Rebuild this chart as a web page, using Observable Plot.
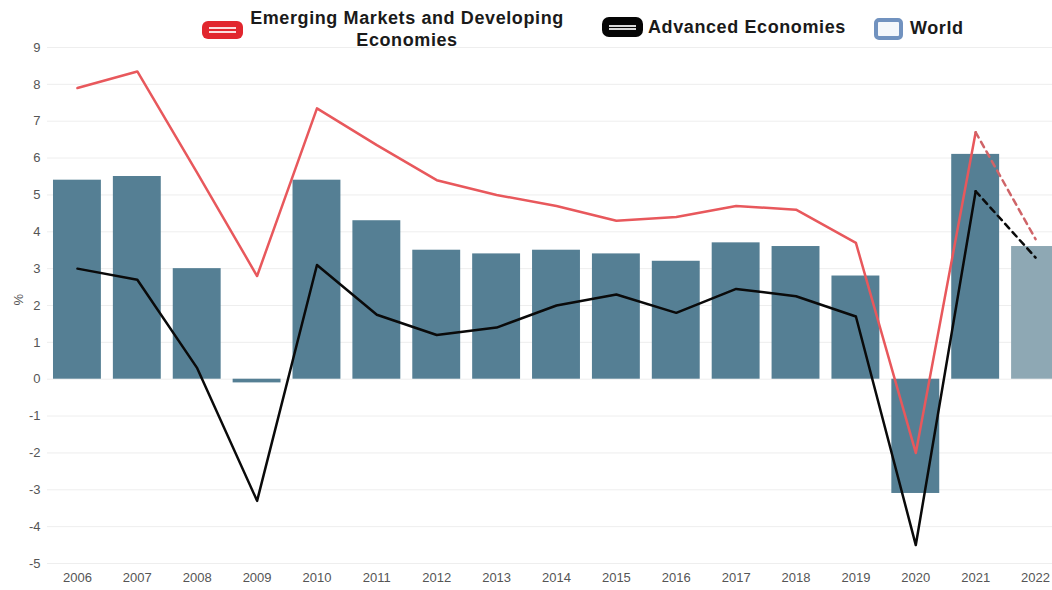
<!DOCTYPE html>
<html>
<head>
<meta charset="utf-8">
<script src="https://cdn.jsdelivr.net/npm/d3@7"></script>
<script src="https://cdn.jsdelivr.net/npm/@observablehq/plot@0.6"></script>
<style>
  html, body { margin: 0; padding: 0; background: #fff; overflow: hidden; width: 1052px; height: 590px; }
  #legend { position: relative; height: 40px; z-index: 1; font-family: "Liberation Sans", Arial, sans-serif; font-weight: bold; font-size: 18px; letter-spacing: 0.6px; color: #1a1a1a; }
  #legend .icon { position: absolute; box-sizing: border-box; }
  #legend .lbl { position: absolute; line-height: 22px; white-space: normal; text-align: center; }
  #legend .bar { position: absolute; left: 7px; right: 7px; height: 2px; background: rgba(255,255,255,0.85); }
</style>
</head>
<body>
<div id="legend"></div>
<div id="chart"></div>
<script>
const years = ["2006","2007","2008","2009","2010","2011","2012","2013","2014","2015","2016","2017","2018","2019","2020","2021","2022"];
const world = [5.4, 5.5, 3.0, -0.1, 5.4, 4.3, 3.5, 3.4, 3.5, 3.4, 3.2, 3.7, 3.6, 2.8, -3.1, 6.1, 3.6];
const emde  = [7.9, 8.35, 5.6, 2.8, 7.35, 6.35, 5.4, 5.0, 4.7, 4.3, 4.4, 4.7, 4.6, 3.7, -2.0, 6.7, 3.8];
const ae    = [3.0, 2.7, 0.3, -3.3, 3.1, 1.75, 1.2, 1.4, 2.0, 2.3, 1.8, 2.45, 2.25, 1.7, -4.5, 5.1, 3.3];
const yTicks = [-5, -4, -3, -2, -1, 0, 1, 2, 3, 4, 5, 6, 7, 8, 9];
const seriesNames = ["Emerging Markets and Developing Economies", "Advanced Economies", "World"];
const forecastYear = "2022";

// Legend (HTML, above the chart)
const legend = document.getElementById("legend");
function addIcon(left, top, w, h, css, bars) {
  const d = document.createElement("div");
  d.className = "icon";
  Object.assign(d.style, {left: left + "px", top: top + "px", width: w + "px", height: h + "px"}, css);
  for (const t of bars) {
    const b = document.createElement("div");
    b.className = "bar";
    b.style.top = t + "px";
    d.appendChild(b);
  }
  legend.appendChild(d);
}
function addLabel(left, top, width, text) {
  const s = document.createElement("div");
  s.className = "lbl";
  Object.assign(s.style, {left: left + "px", top: top + "px"});
  if (width) s.style.width = width + "px";
  s.textContent = text;
  legend.appendChild(s);
}
addIcon(202, 21, 41, 18, {background: "#e1262e", borderRadius: "6px"}, [6, 10]);
addLabel(243, 7, 328, seriesNames[0]);
addIcon(602, 17, 41, 20, {background: "#050505", borderRadius: "7px"}, [8, 11]);
addLabel(648, 16, null, seriesNames[1]);
addIcon(874, 18, 29, 22, {background: "#f4f7fb", border: "4px solid #7192bf", borderRadius: "5px"}, []);
addLabel(910, 17, null, seriesNames[2]);

// Data tables
const bars = years.map((year, i) => ({year, value: world[i]}));
const emdeRows = years.map((year, i) => ({year, value: emde[i]}));
const aeRows = years.map((year, i) => ({year, value: ae[i]}));
const fi = years.indexOf(forecastYear);
const actualBars = bars.filter(d => d.year !== forecastYear);
const forecastBars = bars.filter(d => d.year === forecastYear);

const chart = Plot.plot({
  width: 1065,
  height: 550,
  marginTop: 7,
  marginBottom: 27,
  marginLeft: 47,
  marginRight: 0,
  style: {fontFamily: "'Liberation Sans', Arial, sans-serif", fontSize: "13px", color: "#555", background: "transparent", maxWidth: "none"},
  x: {domain: years, paddingInner: 0.2, paddingOuter: 0.1, round: false, label: null, tickSize: 0, tickPadding: 9},
  y: {domain: [-5, 9], ticks: yTicks, tickFormat: d => String(d), grid: true, label: null, tickSize: 0, tickPadding: 7},
  marks: [
    Plot.barY(actualBars, {x: "year", y: "value", fill: "#557f94"}),
    Plot.barY(forecastBars, {x: "year", y: "value", fill: "#8ea8b4"}),
    Plot.line(emdeRows.slice(0, fi), {x: "year", y: "value", stroke: "#e8585c", strokeWidth: 2.5}),
    Plot.line(emdeRows.slice(fi - 1), {x: "year", y: "value", stroke: "#cf6468", strokeWidth: 2.5, strokeDasharray: "6,5"}),
    Plot.line(aeRows.slice(0, fi), {x: "year", y: "value", stroke: "#0a0a0a", strokeWidth: 2.5}),
    Plot.line(aeRows.slice(fi - 1), {x: "year", y: "value", stroke: "#0a0a0a", strokeWidth: 2.5, strokeDasharray: "6,5"}),
    Plot.text(["%"], {frameAnchor: "left", dx: -29, rotate: -90, fill: "#555", fontSize: 13})
  ]
});
document.getElementById("chart").appendChild(chart);
</script>
</body>
</html>
